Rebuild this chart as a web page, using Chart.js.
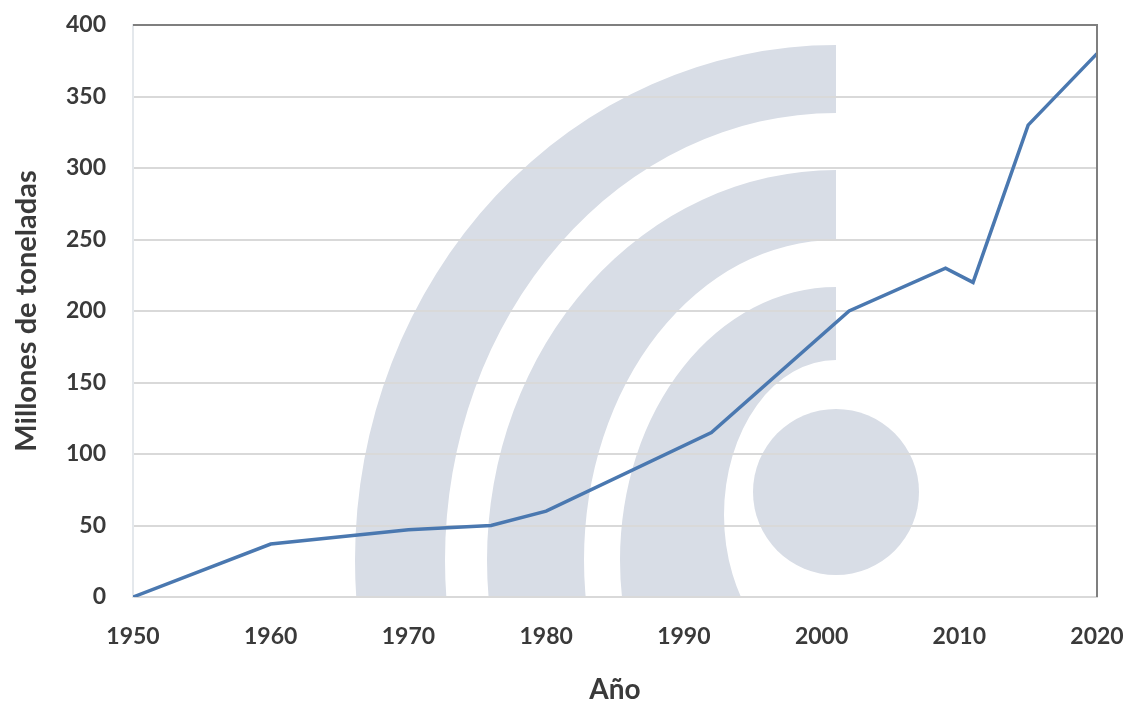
<!DOCTYPE html>
<html lang="es">
<head>
    <meta charset="UTF-8">
    <title>Millones de toneladas por año</title>
    <script src="https://cdn.jsdelivr.net/npm/chart.js"></script>
    <style>
        html, body {
            margin: 0;
            padding: 0;
            background: #ffffff;
        }
        #wrap {
            width: 1132px;
            height: 710px;
        }
    </style>
</head>
<body>
    <div id="wrap"><canvas id="chart"></canvas></div>

    <script>
        // data
        const years = [1950, 1960, 1970, 1976, 1980, 1992, 2002, 2009, 2011, 2015, 2020];
        const tonnes = [0, 37, 47, 50, 60, 115, 200, 230, 220, 330, 380];
        const yTicks = [0, 50, 100, 150, 200, 250, 300, 350, 400];
        const xTicks = [1950, 1960, 1970, 1980, 1990, 2000, 2010, 2020];

        const tickFont = { family: "Lato", size: 23, weight: "bold" };
        const titleFont = { family: "Lato", size: 28, weight: "bold" };
        const textColor = "#3a3a3a";

        // faint logo behind the plot (decoration only)
        const watermark = {
            id: "watermark",
            beforeDraw(chart) {
                const { ctx, chartArea: a } = chart;
                const cx = 836;
                ctx.save();
                ctx.beginPath();
                ctx.rect(a.left, a.top, cx - a.left, a.bottom - a.top);
                ctx.clip();
                ctx.fillStyle = "#d8dde6";
                // [cy, rxOut, ryOut, cyIn, rxIn, ryIn]
                const bands = [
                    [560, 481, 515, 560, 391, 447],
                    [560, 349, 390, 560, 252, 320],
                    [560, 216, 273, 515, 112, 155]
                ];
                bands.forEach(b => {
                    ctx.beginPath();
                    ctx.ellipse(cx, b[0], b[1], b[2], 0, 0, Math.PI * 2);
                    ctx.ellipse(cx, b[3], b[4], b[5], 0, 0, Math.PI * 2);
                    ctx.fill("evenodd");
                });
                ctx.restore();
                ctx.save();
                ctx.beginPath();
                ctx.arc(836, 492, 83, 0, Math.PI * 2);
                ctx.fillStyle = "#d8dde6";
                ctx.fill();
                ctx.restore();
            },
            afterDatasetsDraw(chart) {
                // dark top and right frame lines
                const { ctx, chartArea: a } = chart;
                ctx.save();
                ctx.strokeStyle = "#7f7f7f";
                ctx.lineWidth = 2;
                ctx.beginPath();
                ctx.moveTo(a.left, a.top);
                ctx.lineTo(a.right, a.top);
                ctx.lineTo(a.right, a.bottom);
                ctx.stroke();
                ctx.restore();
            }
        };

        new Chart(document.getElementById("chart"), {
            type: "line",
            data: {
                datasets: [{
                    data: years.map((y, i) => ({ x: y, y: tonnes[i] })),
                    borderColor: "#4a78b0",
                    borderWidth: 3.5,
                    pointRadius: 0,
                    tension: 0,
                    fill: false
                }]
            },
            options: {
                responsive: true,
                maintainAspectRatio: false,
                animation: false,
                layout: { padding: { top: 25, right: 35, left: 6, bottom: 3 } },
                plugins: {
                    legend: { display: false },
                    tooltip: { enabled: false }
                },
                scales: {
                    x: {
                        type: "linear",
                        min: 1950,
                        max: 2020,
                        afterBuildTicks: s => { s.ticks = xTicks.map(v => ({ value: v })); },
                        afterFit: s => {
                            s.height = 710 - 597 - 3;
                            s.paddingLeft = 0;
                            s.paddingRight = 0;
                        },
                        grid: { display: false, drawTicks: false },
                        border: { display: true, color: "#d9d9d9", width: 2 },
                        ticks: {
                            padding: 26,
                            color: textColor,
                            font: tickFont,
                            callback: v => String(v)
                        },
                        title: {
                            display: true,
                            text: "Año",
                            color: textColor,
                            font: titleFont,
                            padding: { top: 10, bottom: 0 }
                        }
                    },
                    y: {
                        min: 0,
                        max: 400,
                        afterBuildTicks: s => { s.ticks = yTicks.map(v => ({ value: v })); },
                        afterFit: s => {
                            s.width = 133 - 6;
                            s.paddingTop = 0;
                            s.paddingBottom = 0;
                        },
                        grid: { color: "#d9d9d9", lineWidth: 2, drawTicks: false },
                        border: { display: true, color: "#e4e8ec", width: 2 },
                        ticks: {
                            padding: 27,
                            color: textColor,
                            font: tickFont
                        },
                        title: {
                            display: true,
                            text: "Millones de toneladas",
                            color: textColor,
                            font: { family: "Lato", size: 29, weight: "bold" },
                            padding: { top: 3, bottom: 0 }
                        }
                    }
                }
            },
            plugins: [watermark]
        });
    </script>
</body>
</html>
